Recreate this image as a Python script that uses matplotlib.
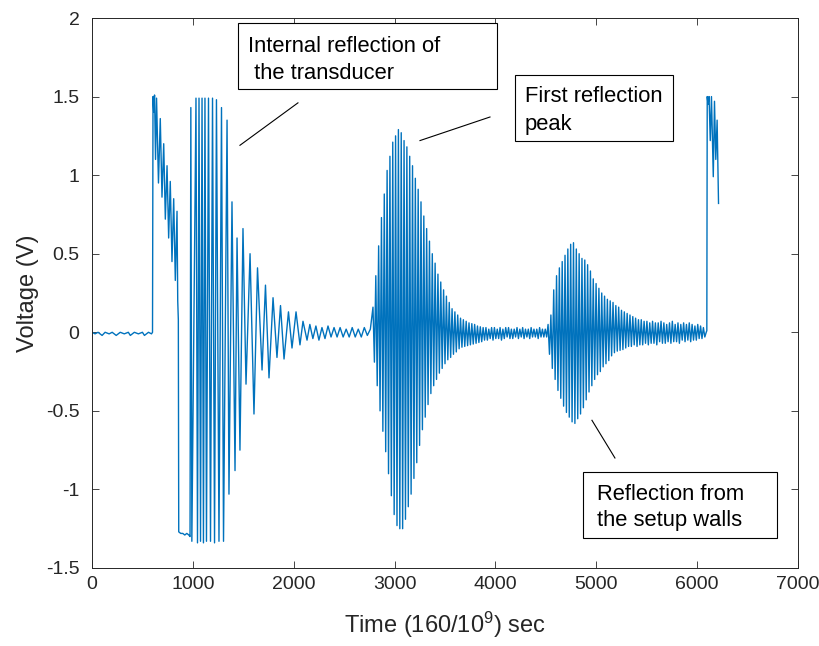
import numpy as np
import matplotlib
matplotlib.use("Agg")
import matplotlib.pyplot as plt
from matplotlib.patches import Rectangle

plt.rcParams['font.family'] = ['Liberation Sans', 'DejaVu Sans']
plt.rcParams['mathtext.fontset'] = 'custom'
plt.rcParams['mathtext.rm'] = 'Liberation Sans'
plt.rcParams['mathtext.default'] = 'regular'

# ---------------- data ----------------
# baseline before the excitation
base_t = [0, 30, 60, 100, 130, 170, 200, 240, 280, 320, 360, 380, 420, 460, 500, 520, 560, 590]
base_v = [0.0, -0.01, 0.0, -0.02, 0.0, -0.01, 0.0, -0.02, 0.0, -0.01, 0.0, -0.02, 0.0, -0.01, 0.0, -0.02, 0.0, -0.01]

# excitation saw-tooth
saw_t = [600, 605, 612, 620, 630, 640, 659, 677, 694, 711, 727, 744, 760, 776, 793, 810, 826, 843, 850, 856]
saw_v = [0.0, 1.50, 1.40, 1.51, 1.10, 1.49, 0.95, 1.36, 0.86, 1.20, 0.72, 1.06, 0.60, 0.96, 0.45, 0.85, 0.33, 0.77, 0.20, 0.08]

# internal reflection (saturated swing and decay) + quiet ripple
int_t = [860, 880, 900, 920, 940, 960, 972, 980, 990,
         1031, 1046, 1061, 1076, 1091, 1105, 1120, 1135, 1155, 1175, 1195, 1215, 1234, 1259, 1284, 1304,
         1339, 1358, 1388, 1418, 1438, 1467, 1497, 1527, 1567, 1606, 1641, 1686, 1720, 1755, 1795, 1834,
         1869, 1904, 1948, 1983, 2023, 2062, 2092, 2132,
         2160, 2190, 2220, 2250, 2280, 2310, 2340, 2370, 2400, 2430, 2460, 2490, 2520, 2550, 2580, 2610,
         2640, 2670, 2700, 2730, 2760]
int_v = [-1.27, -1.28, -1.28, -1.29, -1.28, -1.29, -1.30, 1.43, -1.33,
         1.49, -1.34, 1.49, -1.33, 1.49, -1.34, 1.49, -1.33, 1.49, -1.33, 1.49, -1.34, 1.48, -1.33, 1.43, -1.33,
         1.35, -1.03, 0.83, -0.88, 0.60, -0.75, 0.66, -0.33, 0.50, -0.52, 0.41, -0.24, 0.30, -0.29, 0.22, -0.16,
         0.17, -0.17, 0.13, -0.10, 0.13, -0.08, 0.07, -0.05,
         0.05, -0.04, 0.04, -0.05, 0.03, -0.04, 0.04, -0.03, 0.03, -0.03, 0.03, -0.03, 0.02, -0.03, 0.03, -0.03,
         0.02, -0.03, 0.03, -0.02, 0.02]

# echo bursts: one peak and one trough per carrier cycle (sample grid)
burst_start = 2786
cycle = 28
# first reflection
d_peaks = [0.16, 0.36, 0.55, 0.73, 0.88, 1.03, 1.12, 1.21, 1.25, 1.29, 1.27, 1.22, 1.18, 1.12, 1.06, 0.98,
           0.91, 0.83, 0.74, 0.66, 0.58, 0.50, 0.44, 0.37, 0.32, 0.27, 0.23, 0.19, 0.15, 0.13, 0.11, 0.09,
           0.08, 0.07, 0.06, 0.055, 0.05, 0.04, 0.035,
           0.03, 0.03, 0.02, 0.03, 0.03, 0.02, 0.03, 0.02, 0.03, 0.03, 0.02, 0.02, 0.03, 0.02, 0.03, 0.02,
           0.02, 0.03, 0.02, 0.02, 0.03, 0.02, 0.02]
d_troughs = [-0.19, -0.34, -0.50, -0.63, -0.76, -0.90, -1.04, -1.16, -1.23, -1.25, -1.25, -1.19, -1.11, -1.03,
             -0.93, -0.83, -0.72, -0.62, -0.54, -0.46, -0.39, -0.34, -0.30, -0.26, -0.23, -0.20, -0.175, -0.16,
             -0.14, -0.125, -0.105, -0.095, -0.09, -0.085, -0.08, -0.075, -0.07, -0.065, -0.06,
             -0.05, -0.05, -0.04, -0.05, -0.04, -0.04, -0.05, -0.04, -0.03, -0.04, -0.04, -0.03, -0.04, -0.03,
             -0.04, -0.03, -0.04, -0.03, -0.03, -0.04, -0.03, -0.03, -0.03]
# reflection from the setup walls
e_peaks = [0.05, 0.11, 0.27, 0.36, 0.41, 0.45, 0.49, 0.53, 0.56, 0.57, 0.53, 0.50, 0.47, 0.46, 0.43, 0.39,
           0.34, 0.31, 0.28, 0.25, 0.23, 0.21, 0.20, 0.19, 0.17, 0.16, 0.14, 0.13, 0.12, 0.11, 0.10, 0.09,
           0.08, 0.08,
           0.07, 0.07, 0.06, 0.07, 0.06, 0.06, 0.07, 0.06, 0.05, 0.06, 0.07, 0.05, 0.06, 0.05, 0.06, 0.05,
           0.06, 0.05, 0.04, 0.05, 0.04, 0.03]
e_troughs = [-0.14, -0.23, -0.30, -0.37, -0.42, -0.47, -0.51, -0.54, -0.57, -0.58, -0.55, -0.52, -0.48, -0.43,
             -0.38, -0.34, -0.30, -0.27, -0.25, -0.22, -0.20, -0.18, -0.15, -0.13, -0.12, -0.115, -0.11, -0.10,
             -0.09,
             -0.09, -0.08, -0.09, -0.08, -0.08, -0.07, -0.08, -0.07, -0.07, -0.08, -0.06, -0.07, -0.07, -0.06,
             -0.07, -0.06, -0.06, -0.07, -0.05, -0.06, -0.05, -0.06, -0.05, -0.05, -0.04, -0.04, -0.03]

# final excitation at the end of the record
tail_t = [6090, 6096, 6100, 6108, 6118, 6130, 6142, 6160, 6172, 6185, 6198, 6212]
tail_v = [0.0, 0.01, 1.50, 1.45, 1.50, 1.22, 1.50, 0.99, 1.47, 1.10, 1.35, 0.82]

xticks = [0, 1000, 2000, 3000, 4000, 5000, 6000, 7000]
yticks = [-1.5, -1, -0.5, 0, 0.5, 1, 1.5, 2]
ytick_labels = ['-1.5', '-1', '-0.5', '0', '0.5', '1', '1.5', '2']

# ---------------- assemble the trace ----------------
peaks = d_peaks + e_peaks
troughs = d_troughs + e_troughs
burst_t, burst_v = [], []
for i, (p, q) in enumerate(zip(peaks, troughs)):
    burst_t += [burst_start + i * cycle, burst_start + i * cycle + cycle / 2]
    burst_v += [p, q]

t = np.array(base_t + saw_t + int_t + burst_t + tail_t, dtype=float)
v = np.array(base_v + saw_v + int_v + burst_v + tail_v, dtype=float)

# ---------------- figure ----------------
W, H = 819, 646
fig = plt.figure(figsize=(W / 100, H / 100), dpi=100)
ax = fig.add_axes([92 / W, 1 - 568 / H, (798 - 92) / W, (568 - 18) / H])
ax.plot(t, v, color='#0072BD', lw=1.0)

ax.set_xlim(0, 7000)
ax.set_ylim(-1.5, 2)
ax.set_xticks(xticks)
ax.set_yticks(yticks)
ax.set_yticklabels(ytick_labels)
dark = '#262626'
ax.tick_params(direction='in', top=True, right=True, length=5, width=0.6,
               labelsize=14, colors=dark)
ax.tick_params(axis='y', pad=9)
ax.tick_params(axis='x', pad=6)
for s in ax.spines.values():
    s.set_color(dark)
    s.set_linewidth(0.7)
ax.set_xlabel(r'Time (160/10$^{9}$) sec', fontsize=17, color=dark, labelpad=12)
ax.set_ylabel('Voltage (V)', fontsize=17, color=dark, labelpad=5)

def box(x0, x1, y0, y1, lines, ys, xt):
    ax.add_patch(Rectangle((x0, y0), x1 - x0, y1 - y0, facecolor='white', edgecolor='black',
                           lw=0.8, zorder=5, clip_on=False))
    for s_, yy in zip(lines, ys):
        ax.text(xt, yy, s_, fontsize=15.8, ha='left', va='center', zorder=6, color='black')

box(1448, 4016, 1.55, 1.97, ['Internal reflection of', ' the transducer'], [1.82, 1.65], 1547)
box(4194, 5761, 1.22, 1.64, ['First reflection', 'peak'], [1.50, 1.32], 4293)
box(4868, 6792, -1.31, -0.89, ['Reflection from', 'the setup walls'], [-1.03, -1.20], 5007)

ax.plot([1467, 2042], [1.19, 1.46], color='black', lw=0.8, zorder=4)
ax.plot([3252, 3946], [1.22, 1.37], color='black', lw=0.8, zorder=4)
ax.plot([4957, 5185], [-0.56, -0.80], color='black', lw=0.8, zorder=4)

fig.savefig('out.png', dpi=100, facecolor='white')
